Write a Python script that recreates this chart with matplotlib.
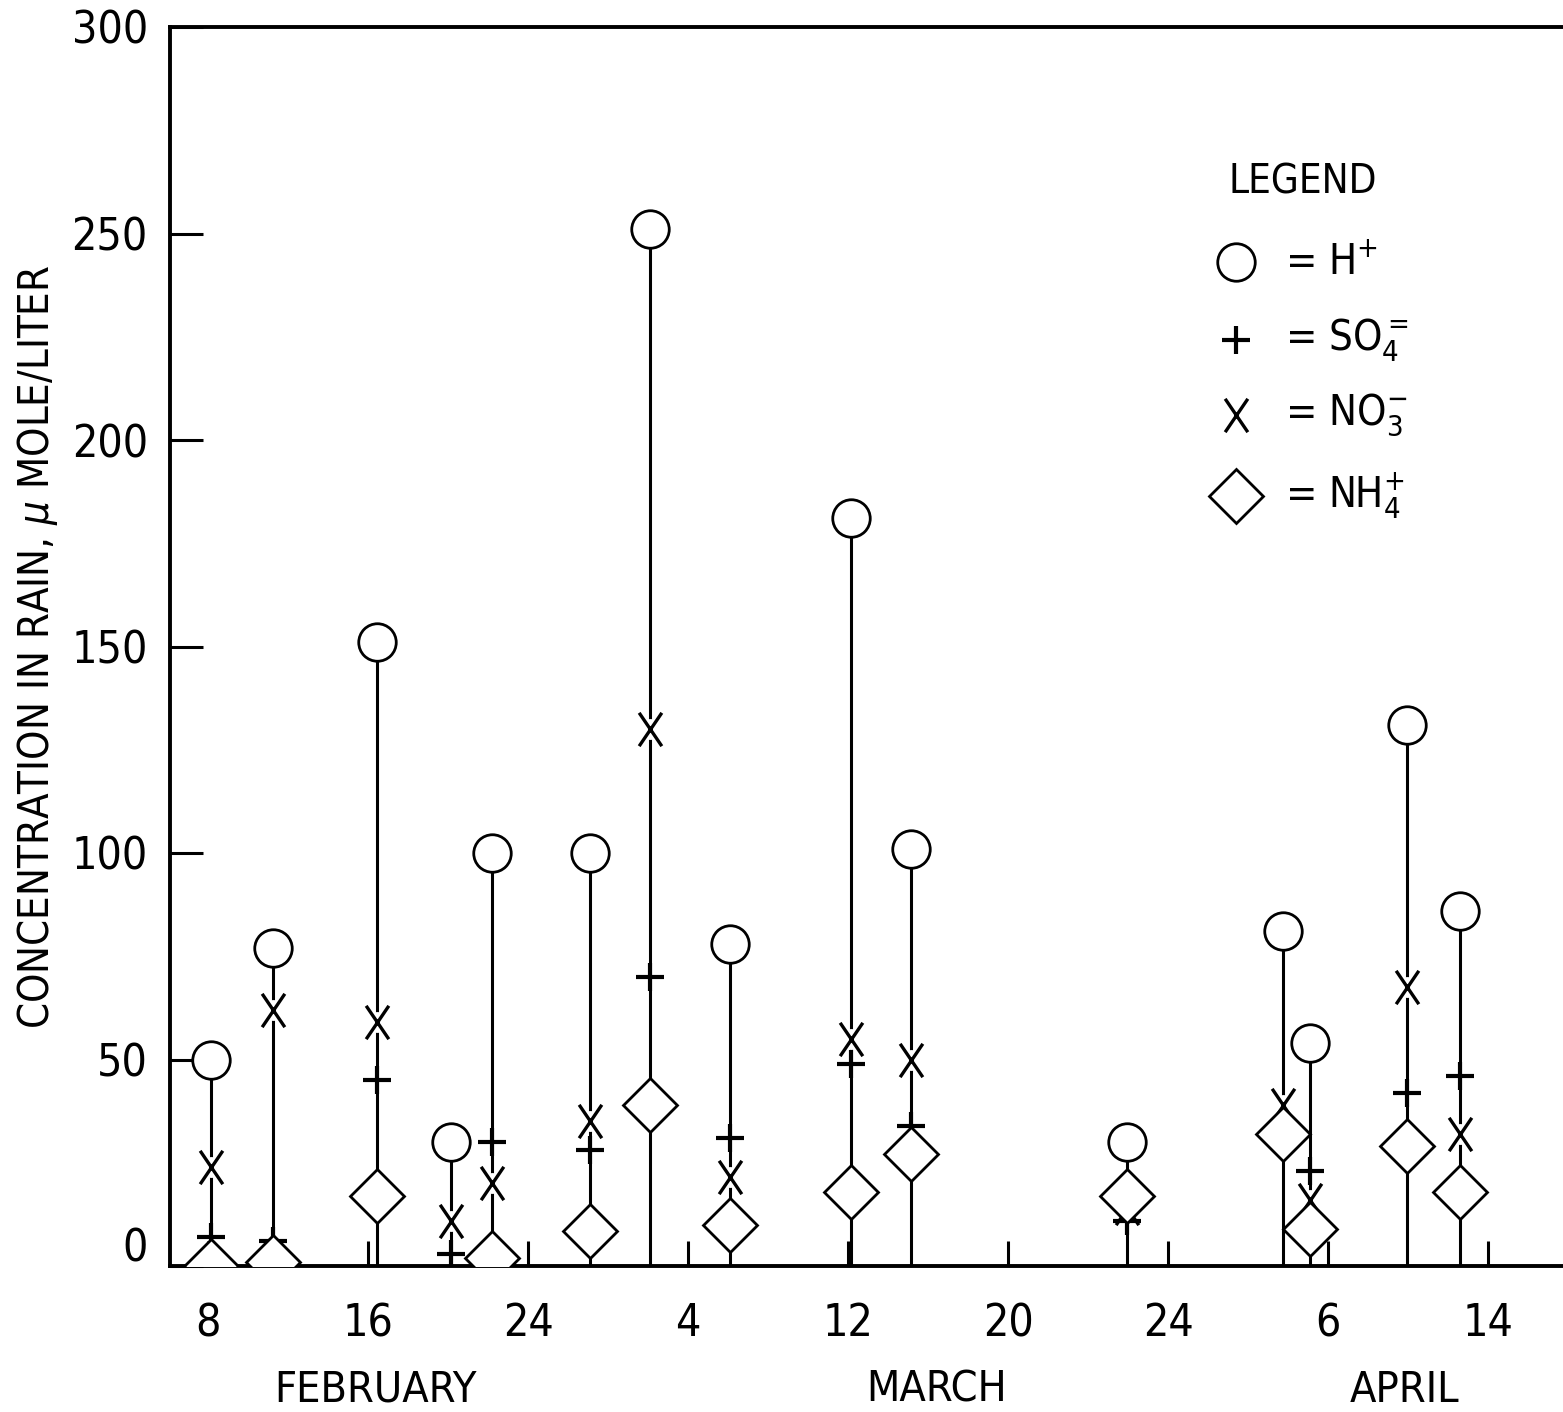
import matplotlib.pyplot as plt
import numpy as np
from matplotlib.path import Path
from matplotlib.transforms import ScaledTranslation

plt.rcParams['font.family'] = ['DejaVu Sans']
plt.rcParams['font.stretch'] = 'condensed'
plt.rcParams['mathtext.fontset'] = 'custom'
plt.rcParams['mathtext.rm'] = 'DejaVu Sans:stretch=condensed'
plt.rcParams['mathtext.it'] = 'DejaVu Sans:italic:stretch=condensed'

# sampling positions on the time axis (8 units between labelled ticks)
day = [8.15, 11.25, 16.45, 20.15, 22.2, 27.1, 30.1, 34.1, 40.15, 43.15,
       53.95, 61.75, 63.1, 67.95, 70.6]
h_ion = [50, 77, 151, 30, 100, 100, 251, 78, 181, 101, 30, 81, 54, 131, 86]
so4 = [7, 6, 45, 3, 30, 28, 70, 31, 49, 34, 11, 31, 23, 42, 46]
no3 = [24, 62, 59, 11, 20, 35, 130, 21.5, 55, 50, 14, 39, 16, 67.5, 32]
nh4 = [0, 1, 17, np.nan, 2, 8.5, 39, 10, 18, 27, 17, 32, 9, 29, 18]

tick_pos = [8, 16, 24, 32, 40, 48, 56, 64, 72]
tick_labels = ['8', '16', '24', '4', '12', '20', '24', '6', '14']
months = ['FEBRUARY', 'MARCH', 'APRIL']
month_pos = [16.35, 44.45, 67.85]

# tall letter-like X marker
x_marker = Path([(-0.34, -0.5), (0.34, 0.5), (-0.34, 0.5), (0.34, -0.5)],
                [Path.MOVETO, Path.LINETO, Path.MOVETO, Path.LINETO])

fig = plt.figure(figsize=(15.63, 14.12), dpi=100)
ax = fig.add_axes([170/1563, 1 - 1266/1412, 1 - 170/1563, (1266 - 27)/1412])

ax.vlines(day, 0, h_ion, color='black', lw=2.2, zorder=1)
# white backing so the stem does not run through the X
ax.plot(day, no3, ls='', marker='o', ms=15, mfc='white', mec='none', zorder=2)
ax.plot(day, no3, ls='', marker=x_marker, ms=24, color='black', mew=2.4, zorder=3)
ax.plot(day, so4, ls='', marker='+', ms=20, color='black', mew=3, zorder=3)
ax.plot(day, nh4, ls='', marker='D', ms=27, mfc='white', mec='black', mew=2, zorder=4)
ax.plot(day, h_ion, ls='', marker='o', ms=27, mfc='white', mec='black', mew=2, zorder=4)

ax.set_xlim(6.1, 75.75)
ax.set_ylim(0, 300)
ax.set_xticks(tick_pos)
ax.set_xticklabels(tick_labels)
ax.set_yticks([0, 50, 100, 150, 200, 250, 300])
ax.tick_params(axis='both', direction='in', width=2.2, length=18, labelsize=32)
ax.tick_params(axis='x', pad=26)
ax.tick_params(axis='y', pad=16, length=24)
for s in ['left', 'bottom', 'top']:
    ax.spines[s].set_linewidth(2.8)
ax.spines['right'].set_visible(False)

# the zero label sits a little higher in the original
zero = ax.get_yticklabels()[0]
zero.set_transform(zero.get_transform() + ScaledTranslation(0, 22/100, fig.dpi_scale_trans))

ax.set_ylabel(r'CONCENTRATION IN RAIN, $\mathit{\mu}$ MOLE/LITER', fontsize=30, labelpad=8)

for m, p in zip(months, month_pos):
    ax.text(p, -0.1, m, fontsize=31, ha='center', va='center',
            transform=ax.get_xaxis_transform())

# legend
def ax_xy(px, py):
    return (px - 170) / 1393, (1266 - py) / 1239

lx, ly = ax_xy(1228, 183)
ax.text(lx, ly, 'LEGEND', fontsize=29, ha='left', va='center', transform=ax.transAxes)
keys = [
    (262, dict(marker='o', ms=27, mfc='white', mec='black', mew=2), r'= H$^{+}$'),
    (340, dict(marker='+', ms=20, color='black', mew=3), r'= SO$_{4}^{=}$'),
    (415, dict(marker=x_marker, ms=24, color='black', mew=2.4), r'= NO$_{3}^{-}$'),
    (496, dict(marker='D', ms=27, mfc='white', mec='black', mew=2), r'= NH$_{4}^{+}$'),
]
for py, style, label in keys:
    mx, my = ax_xy(1236, py)
    ax.plot([mx], [my], ls='', transform=ax.transAxes, clip_on=False, **style)
    tx, ty = ax_xy(1285, py)
    ax.text(tx, ty, label, fontsize=30, ha='left', va='center', transform=ax.transAxes)

fig.savefig('out.png', dpi=100)
